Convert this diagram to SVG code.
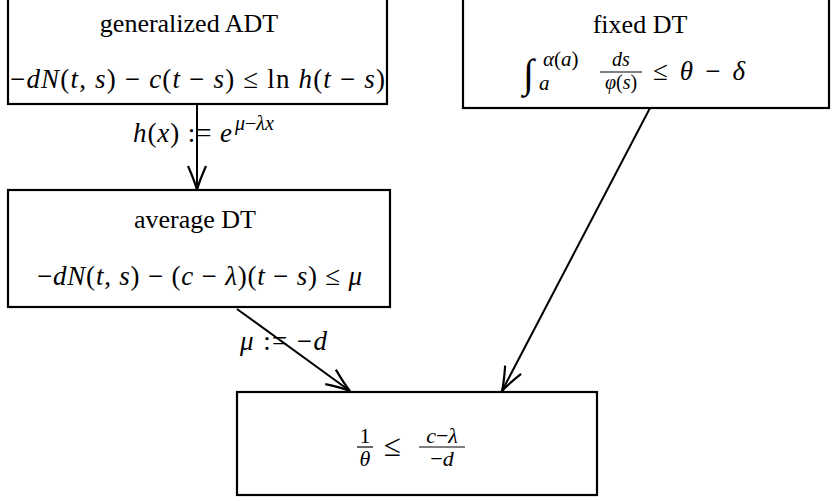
<svg xmlns="http://www.w3.org/2000/svg" width="832" height="501" viewBox="0 0 832 501">
<defs>
<style>
.box{fill:#fff;stroke:#000;stroke-width:2.2}
.t{font-family:'Liberation Serif','DejaVu Serif',serif;fill:#000}
.i{font-style:italic}
.edge{fill:none;stroke:#000;stroke-width:2}
</style>
<marker id="ah" markerUnits="userSpaceOnUse" markerWidth="30" markerHeight="22" viewBox="-26 -11 30 22" refX="0" refY="0" orient="auto">
<path d="M-24,-9 Q-8,-2 0,0 Q-8,2 -24,9" fill="none" stroke="#000" stroke-width="2.2"/>
</marker>
</defs>
<rect width="832" height="501" fill="#fff"/>
<g id="connectors">
<line class="edge" x1="197" y1="104" x2="197" y2="190" marker-end="url(#ah)"/>
<line class="edge" x1="237" y1="309" x2="350" y2="391" marker-end="url(#ah)"/>
<line class="edge" x1="650" y1="108" x2="502" y2="391" marker-end="url(#ah)"/>
</g>
<g id="node-generalized-adt">
<rect class="box" x="8" y="-5" width="379" height="109"/>
<text class="t" x="189" y="32" font-size="26" text-anchor="middle">generalized ADT</text>
<text class="t" x="10" y="88" font-size="27" textLength="375" lengthAdjust="spacing">−<tspan class="i">dN</tspan>(<tspan class="i">t</tspan>, <tspan class="i">s</tspan>) − <tspan class="i">c</tspan>(<tspan class="i">t</tspan> − <tspan class="i">s</tspan>) ≤ ln <tspan class="i">h</tspan>(<tspan class="i">t</tspan> − <tspan class="i">s</tspan>)</text>
</g>
<g id="node-fixed-dt">
<rect class="box" x="463" y="-5" width="366" height="113"/>
<text class="t" x="640" y="33" font-size="26" text-anchor="middle">fixed DT</text>
<text class="t" x="523" y="87" font-size="40">∫</text>
<text class="t" x="543" y="66" font-size="21"><tspan class="i">α</tspan>(<tspan class="i">a</tspan>)</text>
<text class="t i" x="539" y="90" font-size="21">a</text>
<text class="t i" x="621" y="66" font-size="20" text-anchor="middle">ds</text>
<line x1="600" y1="72" x2="642" y2="72" stroke="#000" stroke-width="1.2"/>
<text class="t" x="621" y="89" font-size="20" text-anchor="middle"><tspan class="i">φ</tspan>(<tspan class="i">s</tspan>)</text>
<text class="t" x="653" y="80" font-size="27" textLength="92" lengthAdjust="spacing">≤ <tspan class="i">θ</tspan> − <tspan class="i">δ</tspan></text>
</g>
<g id="node-average-dt">
<rect class="box" x="8" y="190" width="382" height="117"/>
<text class="t" x="195" y="228" font-size="26" text-anchor="middle">average DT</text>
<text class="t" x="37" y="285" font-size="27" textLength="325" lengthAdjust="spacing">−<tspan class="i">dN</tspan>(<tspan class="i">t</tspan>, <tspan class="i">s</tspan>) − (<tspan class="i">c</tspan> − <tspan class="i">λ</tspan>)(<tspan class="i">t</tspan> − <tspan class="i">s</tspan>) ≤ <tspan class="i">μ</tspan></text>
</g>
<g id="node-result">
<rect class="box" x="237" y="392" width="360" height="103"/>
<text class="t" x="365" y="443" font-size="22" text-anchor="middle">1</text>
<line x1="357" y1="447" x2="373" y2="447" stroke="#000" stroke-width="1.2"/>
<text class="t i" x="365" y="466" font-size="22" text-anchor="middle">θ</text>
<text class="t" x="384" y="456" font-size="31">≤</text>
<text class="t" x="442" y="443" font-size="22" text-anchor="middle"><tspan class="i">c</tspan>−<tspan class="i">λ</tspan></text>
<line x1="419" y1="447" x2="465" y2="447" stroke="#000" stroke-width="1.2"/>
<text class="t" x="442" y="466" font-size="22" text-anchor="middle">−<tspan class="i">d</tspan></text>
</g>
<g id="edge-labels">
<text class="t" x="133" y="142" font-size="27" textLength="99" lengthAdjust="spacing"><tspan class="i">h</tspan>(<tspan class="i">x</tspan>) := <tspan class="i">e</tspan></text>
<text class="t" x="235" y="130" font-size="20"><tspan class="i">μ</tspan>−<tspan class="i">λx</tspan></text>
<text class="t" x="240" y="350" font-size="27" textLength="87" lengthAdjust="spacing"><tspan class="i">μ</tspan> := −<tspan class="i">d</tspan></text>
</g>
</svg>
